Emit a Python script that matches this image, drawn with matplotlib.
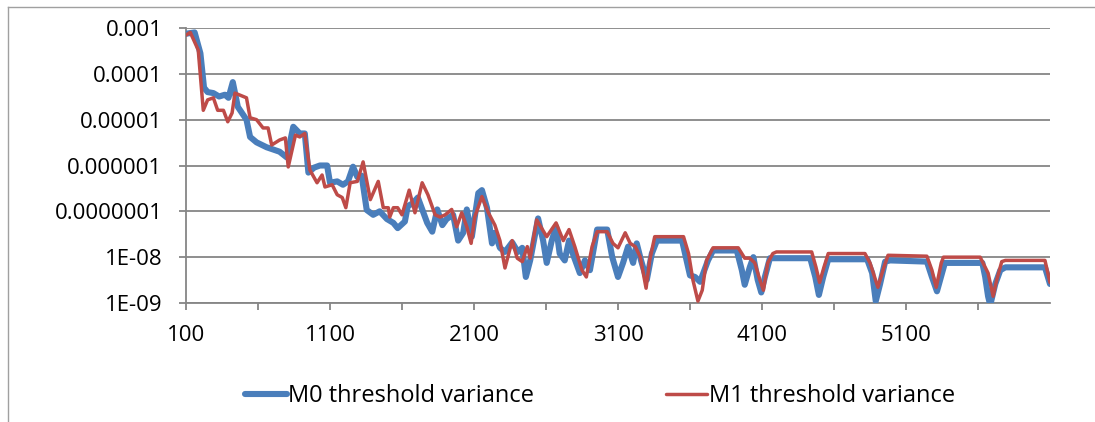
import numpy as np
import matplotlib.pyplot as plt
from matplotlib.lines import Line2D
from matplotlib.ticker import FixedLocator, NullFormatter

plt.rcParams['font.family'] = ['Open Sans', 'DejaVu Sans']

# M0 threshold variance (blue)
m0_x = [100, 160, 200, 225, 250, 290, 330, 370, 395, 425, 460, 520, 545, 590, 660,
        750, 800, 845, 890, 925, 950, 990, 1030, 1080, 1100, 1150, 1190, 1225, 1260,
        1290, 1320, 1355, 1400, 1445, 1495, 1540, 1570, 1620, 1640, 1675, 1710, 1775,
        1810, 1845, 1880, 1910, 1955, 1990, 2025, 2050, 2085, 2130, 2155, 2190, 2225,
        2245, 2280, 2315, 2365, 2405, 2435, 2460, 2490, 2545, 2580, 2605, 2640, 2670,
        2695, 2730, 2760, 2790, 2835, 2870, 2905, 2955, 3025, 3060, 3100, 3135, 3170,
        3205, 3230, 3260, 3300, 3335, 3370, 3545, 3580, 3600, 3635, 3670, 3725, 3760,
        3925, 3960, 3980, 4015, 4040, 4070, 4095, 4120, 4155, 4190, 4435, 4470, 4495,
        4525, 4560, 4830, 4865, 4890, 4920, 4955, 4990, 5245, 5280, 5315, 5350, 5370,
        5630, 5650, 5670, 5685, 5720, 5755, 5790, 6065, 6100]
m0_y = [7.5e-4, 8e-4, 2.8e-4, 5e-5, 4e-5, 3.8e-5, 3.2e-5, 3.5e-5, 3e-5, 6.6e-5, 1.9e-5,
        1e-5, 4.2e-6, 3.2e-6, 2.5e-6, 2e-6, 1.5e-6, 7e-6, 5e-6, 5e-6, 7e-7, 9e-7, 1e-6,
        1e-6, 4.2e-7, 4.5e-7, 3.8e-7, 4.5e-7, 9.4e-7, 5.6e-7, 6e-7, 1.07e-7, 8.4e-8,
        1e-7, 6.8e-8, 5.6e-8, 4.3e-8, 6e-8, 1.3e-7, 1.5e-7, 2e-7, 5.6e-8, 3.6e-8,
        1.1e-7, 5e-8, 6.8e-8, 8.4e-8, 2.3e-8, 3.4e-8, 1.1e-7, 2.8e-8, 2.5e-7, 2.9e-7,
        1.2e-7, 2e-8, 3.4e-8, 1.6e-8, 1.3e-8, 2.1e-8, 1.3e-8, 1.6e-8, 3.7e-9, 8.5e-9,
        7e-8, 2.3e-8, 7.5e-9, 2.3e-8, 4.6e-8, 1.2e-8, 8.5e-9, 2.3e-8, 1.1e-8, 4.5e-9,
        8.5e-9, 5.2e-9, 4e-8, 4e-8, 1e-8, 3.7e-9, 7.5e-9, 1.7e-8, 7.5e-9, 2e-8, 8.5e-9,
        3.2e-9, 1.2e-8, 2.3e-8, 2.3e-8, 7.5e-9, 4e-9, 3.7e-9, 2.9e-9, 8.5e-9, 1.4e-8,
        1.4e-8, 5.2e-9, 2.5e-9, 6e-9, 1e-8, 3.2e-9, 1.7e-9, 3.7e-9, 9.5e-9, 9.5e-9,
        9.5e-9, 3.7e-9, 1.5e-9, 3.7e-9, 9e-9, 9e-9, 4.5e-9, 1.1e-9, 2.6e-9, 8e-9,
        8.5e-9, 8e-9, 3.7e-9, 1.8e-9, 4.5e-9, 7.5e-9, 7.5e-9, 3.7e-9, 1.4e-9, 9e-10,
        2.6e-9, 5.2e-9, 6e-9, 6e-9, 2.6e-9]

# M1 threshold variance (red)
m1_x = [100, 130, 185, 220, 250, 290, 320, 360, 390, 420, 440, 520, 545, 590, 635, 670,
        695, 750, 790, 810, 860, 890, 925, 960, 1010, 1045, 1065, 1115, 1150, 1185,
        1210, 1240, 1290, 1330, 1380, 1435, 1470, 1505, 1515, 1540, 1570, 1600, 1650,
        1690, 1740, 1780, 1830, 1865, 1900, 1945, 1980, 2015, 2050, 2080, 2105, 2155,
        2200, 2245, 2280, 2315, 2365, 2400, 2435, 2470, 2490, 2535, 2605, 2670, 2720,
        2760, 2800, 2850, 2880, 2920, 2955, 3025, 3065, 3100, 3150, 3185, 3220, 3255,
        3295, 3320, 3355, 3555, 3590, 3620, 3655, 3685, 3715, 3760, 3935, 3980, 4015,
        4050, 4085, 4110, 4140, 4175, 4200, 4445, 4475, 4500, 4530, 4560, 4815, 4850,
        4905, 4940, 4975, 5245, 5280, 5310, 5345, 5360, 5615, 5670, 5705, 5730, 5765,
        5790, 6065, 6100]
m1_y = [7e-4, 8e-4, 3.3e-4, 1.6e-5, 2.7e-5, 3e-5, 1.6e-5, 1.6e-5, 9e-6, 1.4e-5, 3.8e-5,
        3e-5, 1.1e-5, 1e-5, 6.6e-6, 6.6e-6, 2.8e-6, 3.6e-6, 4e-6, 9.3e-7, 4.6e-6,
        4.2e-6, 5e-6, 8e-7, 4.2e-7, 6.2e-7, 3.4e-7, 3.8e-7, 2.3e-7, 2e-7, 1.2e-7,
        4.2e-7, 4.5e-7, 1.2e-6, 1.8e-7, 4.5e-7, 1.2e-7, 1.2e-7, 7.5e-8, 1.2e-7, 1.2e-7,
        8.4e-8, 2.9e-7, 9.3e-8, 4.2e-7, 2.3e-7, 8.4e-8, 7.5e-8, 8.4e-8, 1.1e-7, 4.6e-8,
        9.3e-8, 4.6e-8, 2e-8, 7.5e-8, 2.1e-7, 9.3e-8, 5e-8, 2.3e-8, 5.8e-9, 2.3e-8,
        9.5e-9, 8e-9, 1.7e-8, 9.5e-9, 6.5e-8, 2.8e-8, 5.6e-8, 2.3e-8, 4e-8, 1.7e-8,
        5.2e-9, 3.7e-9, 1.7e-8, 3.6e-8, 3.6e-8, 2e-8, 1.6e-8, 3.4e-8, 2e-8, 1.7e-8,
        1e-8, 2.1e-9, 8.5e-9, 2.8e-8, 2.8e-8, 1.2e-8, 3.2e-9, 1.1e-9, 1.9e-9, 8.5e-9,
        1.6e-8, 1.6e-8, 9.5e-9, 9.5e-9, 7.5e-9, 3.2e-9, 1.9e-9, 7.5e-9, 1.2e-8, 1.3e-8,
        1.3e-8, 6e-9, 2.8e-9, 6e-9, 1.2e-8, 1.2e-8, 7.5e-9, 2.2e-9, 5.2e-9, 1.1e-8,
        1.05e-8, 5.2e-9, 2.2e-9, 7.5e-9, 1e-8, 1e-8, 4.5e-9, 1.4e-9, 3.2e-9, 8e-9,
        8.5e-9, 8.5e-9, 2.8e-9]

y_ticks = [1e-3, 1e-4, 1e-5, 1e-6, 1e-7, 1e-8, 1e-9]
y_labels = ['0.001', '0.0001', '0.00001', '0.000001', '0.0000001', '1E-08', '1E-09']
x_ticks = [100, 1100, 2100, 3100, 4100, 5100]
x_minor = [600, 1600, 2600, 3600, 4600, 5600]

grid_c = '#868686'

fig = plt.figure(figsize=(10.95, 4.22), dpi=100)
ax = fig.add_axes([186 / 1095, 1 - 303 / 422, 864 / 1095, 275 / 422])

ax.plot(m0_x, m0_y, color='#4A7EBB', lw=4.4, solid_joinstyle='round',
        solid_capstyle='round', label='M0 threshold variance', zorder=3)
ax.plot(m1_x, m1_y, color='#BE4B48', lw=2.5, solid_joinstyle='round',
        solid_capstyle='round', label='M1 threshold variance', zorder=4)

ax.set_yscale('log')
ax.set_ylim(1e-9, 1e-3)
ax.set_xlim(100, 6100)
ax.yaxis.set_major_locator(FixedLocator(y_ticks))
ax.yaxis.set_minor_locator(FixedLocator([]))
ax.set_yticklabels(y_labels)
ax.set_xticks(x_ticks)
ax.set_xticks(x_minor, minor=True)
ax.xaxis.set_minor_formatter(NullFormatter())

ax.grid(axis='y', color=grid_c, lw=1.3)
ax.set_axisbelow(True)
for s in ['top', 'right']:
    ax.spines[s].set_visible(False)
for s in ['left', 'bottom']:
    ax.spines[s].set_color(grid_c)
    ax.spines[s].set_linewidth(1.3)
ax.tick_params(axis='both', which='both', color=grid_c, width=1.3, length=5,
               labelsize=16, colors='black')
ax.tick_params(axis='x', which='both', color=grid_c, pad=11)
ax.tick_params(axis='y', pad=12)

fig.legend(loc='center', bbox_to_anchor=(600 / 1095, 1 - 396 / 422), ncol=2,
           frameon=False, fontsize=17, handlelength=1.75, columnspacing=5.6,
           handletextpad=0.05)

# chart border
fig.add_artist(Line2D([8 / 1095, 8 / 1095], [0, 1 - 7 / 422], transform=fig.transFigure,
                      color='#a0a0a0', lw=1))
fig.add_artist(Line2D([8 / 1095, 1], [1 - 7 / 422, 1 - 7 / 422], transform=fig.transFigure,
                      color='#a0a0a0', lw=1))

fig.savefig('out.png', dpi=100)
